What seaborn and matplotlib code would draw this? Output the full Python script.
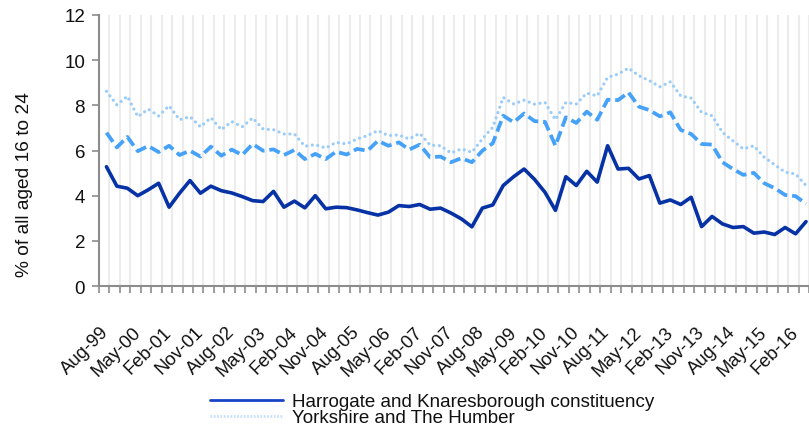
import matplotlib
matplotlib.use("Agg")
import matplotlib.pyplot as plt
import seaborn as sns
import numpy as np
from matplotlib.lines import Line2D

sns.set_style("white")
plt.rcParams['font.family'] = ['Liberation Sans', 'DejaVu Sans']

harrogate = [5.28, 4.42, 4.33, 4.00, 4.26, 4.55, 3.49, 4.11, 4.67, 4.11, 4.42, 4.22, 4.12, 3.96, 3.78, 3.74,
             4.19, 3.49, 3.76, 3.46, 4.00, 3.42, 3.49, 3.47, 3.37, 3.25, 3.14, 3.27, 3.56, 3.52, 3.61, 3.40,
             3.45, 3.23, 2.97, 2.62, 3.45, 3.59, 4.45, 4.84, 5.18, 4.72, 4.15, 3.35, 4.84, 4.45, 5.08, 4.60,
             6.21, 5.18, 5.21, 4.74, 4.89, 3.67, 3.81, 3.61, 3.93, 2.63, 3.08, 2.75, 2.59, 2.63, 2.34, 2.39,
             2.28, 2.59, 2.31, 2.85]
uk = [6.79, 6.14, 6.60, 5.97, 6.20, 5.93, 6.21, 5.80, 5.99, 5.73, 6.17, 5.77, 6.04, 5.80, 6.29, 5.99,
      6.05, 5.80, 6.02, 5.62, 5.85, 5.62, 5.95, 5.82, 6.07, 5.99, 6.43, 6.21, 6.36, 6.04, 6.26, 5.70,
      5.73, 5.48, 5.66, 5.48, 5.99, 6.32, 7.54, 7.25, 7.64, 7.30, 7.27, 6.21, 7.47, 7.22, 7.72, 7.36,
      8.25, 8.23, 8.57, 7.94, 7.79, 7.51, 7.69, 6.91, 6.73, 6.29, 6.26, 5.48, 5.18, 4.92, 5.01, 4.55,
      4.33, 4.03, 3.98, 3.64]
yorkshire = [8.62, 8.02, 8.40, 7.50, 7.83, 7.53, 7.98, 7.36, 7.50, 7.05, 7.45, 6.92, 7.28, 7.05, 7.44, 6.95,
             6.92, 6.73, 6.73, 6.19, 6.26, 6.11, 6.36, 6.29, 6.51, 6.66, 6.88, 6.66, 6.69, 6.51, 6.76, 6.24,
             6.21, 5.89, 6.07, 5.92, 6.51, 7.03, 8.35, 8.06, 8.23, 8.05, 8.13, 7.36, 8.13, 8.06, 8.54, 8.42,
             9.24, 9.38, 9.65, 9.31, 9.09, 8.82, 9.04, 8.42, 8.32, 7.69, 7.54, 6.80, 6.43, 6.07, 6.21, 5.70,
             5.37, 5.04, 4.96, 4.45]
tick_labels = ["Aug-99", "May-00", "Feb-01", "Nov-01", "Aug-02", "May-03", "Feb-04", "Nov-04", "Aug-05",
               "May-06", "Feb-07", "Nov-07", "Aug-08", "May-09", "Feb-10", "Nov-10", "Aug-11", "May-12",
               "Feb-13", "Nov-13", "Aug-14", "May-15", "Feb-16"]
legend_labels = ["Harrogate and Knaresborough constituency", "Yorkshire and The Humber"]

W, H = 809, 427
fig = plt.figure(figsize=(W / 100, H / 100), dpi=100)
ax = fig.add_axes([99 / W, 140 / H, 710 / W, 271 / H])

n = len(harrogate)
x = np.arange(n)
off = 0.714

c_dark = "#0632a6"
c_mid = "#46a2f8"
c_light = "#9accf9"

sns.lineplot(x=x, y=yorkshire, ax=ax, color=c_light, linewidth=2.3,
             linestyle=(0, (0.01, 1.75)), dash_capstyle='round')
sns.lineplot(x=x, y=uk, ax=ax, color=c_mid, linewidth=2.7,
             linestyle=(0, (3.0, 1.3)))
sns.lineplot(x=x, y=harrogate, ax=ax, color=c_dark, linewidth=2.6)

ax.set_xlim(-off, -off + 710 / 10.5)
ax.set_ylim(0, 12)
ax.set_yticks(np.arange(0, 13, 2))
ax.tick_params(axis='y', which='major', length=5, width=1.2, color='#8c8c8c',
               labelsize=13.5, pad=5, left=True, labelcolor='#111111')

ax.set_xticks(x[::3], tick_labels[:len(x[::3])])
ax.set_xticks(np.arange(n + 1) - off, minor=True)
ax.tick_params(axis='x', which='major', length=0, pad=31, labelsize=13.3, labelcolor='#111111')
ax.tick_params(axis='x', which='minor', length=5, width=1.2, color='#8c8c8c', bottom=True)
for lab in ax.get_xticklabels():
    lab.set_rotation(45)
    lab.set_ha('right')
    lab.set_va('center')
    lab.set_rotation_mode('anchor')

ax.grid(False)
ax.grid(which='minor', axis='x', color='#ececec', linewidth=1.5)
ax.set_axisbelow(True)

for s in ['top', 'right']:
    ax.spines[s].set_visible(False)
for s in ['left', 'bottom']:
    ax.spines[s].set_color('#8c8c8c')
    ax.spines[s].set_linewidth(1.5)

ax.set_xlabel("")
ax.set_ylabel("% of all aged 16 to 24", fontsize=13.8, color='#111111')
ax.yaxis.set_label_coords((33 - 99) / 710, (287 - 185) / 271)

handles = [Line2D([], [], color="#1a44c8", linewidth=2.0),
           Line2D([], [], color="#c4e0fb", linewidth=2.0, linestyle=(0, (0.6, 0.6)))]
fig.legend(handles, legend_labels, loc='upper left', bbox_to_anchor=(210 / W, 1 - 394 / H),
           frameon=False, fontsize=13.5, handlelength=3.9, handletextpad=0.5,
           labelspacing=-0.05, borderpad=0, borderaxespad=0, labelcolor='#111111')

fig.savefig("out.png", dpi=100)
